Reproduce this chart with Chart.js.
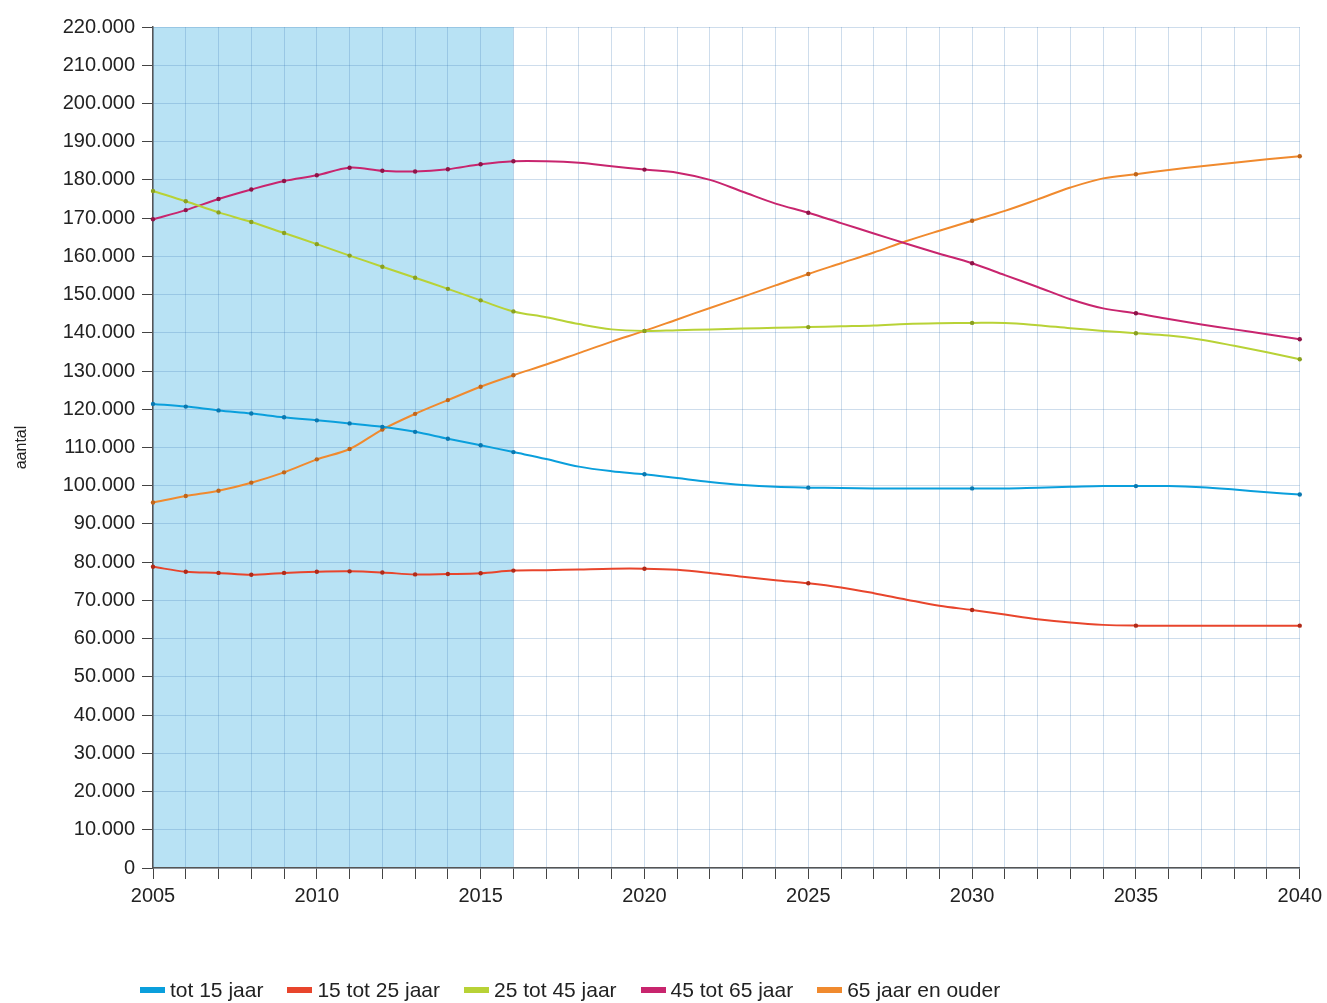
<!DOCTYPE html>
<html>
<head>
<meta charset="utf-8">
<script src="https://cdn.jsdelivr.net/npm/chart.js@4.4.1/dist/chart.umd.min.js"></script>
<style>
  html, body { margin: 0; padding: 0; background: #fff; }
  #wrap { position: relative; width: 1327px; height: 1003px; }
  #legend {
    position: absolute; left: 140px; top: 978px;
    display: flex; align-items: center;
    font-family: "Liberation Sans", Arial, sans-serif; font-size: 21px; color: #222;
  }
  #legend .item { display: flex; align-items: center; margin-right: 24px; }
  #legend .box { width: 25px; height: 6px; margin-right: 5px; }
</style>
</head>
<body>
<div id="wrap">
  <canvas id="chart" width="1327" height="1003"></canvas>
  <div id="legend"></div>
</div>
<script>
// jaren en waarden (aantal personen)
const years = [2005, 2006, 2007, 2008, 2009, 2010, 2011, 2012, 2013, 2014, 2015, 2016,
  2017, 2018, 2019, 2020, 2021, 2022, 2023, 2024, 2025, 2026, 2027, 2028, 2029, 2030,
  2031, 2032, 2033, 2034, 2035, 2036, 2037, 2038, 2039, 2040];

const tot15 = [121400, 120700, 119700, 118900, 117900, 117100, 116300, 115400, 114100, 112300, 110600, 108800,
  107000, 105000, 103800, 103000, 102000, 101000, 100200, 99700, 99500, 99400, 99300, 99300, 99300, 99300,
  99300, 99500, 99700, 99900, 99900, 99900, 99600, 99000, 98300, 97700];

const tot25 = [78800, 77500, 77200, 76700, 77200, 77500, 77600, 77300, 76800, 76900, 77100, 77800,
  77900, 78100, 78300, 78300, 78000, 77200, 76200, 75300, 74500, 73400, 71900, 70200, 68600, 67500,
  66300, 65100, 64200, 63600, 63400, 63400, 63400, 63400, 63400, 63400];

const tot45 = [177100, 174400, 171500, 169000, 166100, 163200, 160200, 157300, 154400, 151500, 148500, 145600,
  144100, 142300, 140900, 140500, 140700, 140900, 141100, 141300, 141500, 141700, 141900, 142300, 142500, 142600,
  142600, 142000, 141200, 140500, 139900, 139300, 138200, 136600, 134900, 133100];

const tot65 = [169700, 172100, 175000, 177500, 179700, 181200, 183200, 182400, 182200, 182800, 184100, 184900,
  184900, 184500, 183600, 182700, 181900, 180000, 176900, 173800, 171400, 168700, 166000, 163300, 160700, 158200,
  155100, 152000, 148800, 146400, 145100, 143600, 142200, 140900, 139600, 138300];

const ouder65 = [95600, 97300, 98700, 100800, 103500, 106900, 109600, 114700, 118800, 122400, 125900, 128900,
  131700, 134700, 137700, 140500, 143500, 146500, 149400, 152400, 155400, 158200, 161000, 164000, 166700, 169300,
  171900, 174900, 178000, 180400, 181500, 182600, 183600, 184500, 185400, 186200];

const seriesNames = ['tot 15 jaar', '15 tot 25 jaar', '25 tot 45 jaar', '45 tot 65 jaar', '65 jaar en ouder'];
const seriesColors = ['#0a9fdc', '#e8452c', '#b8d236', '#c8256e', '#f08a2e'];
const pointColors = ['#0a78b0', '#b02a18', '#8aa020', '#8e1448', '#c0651a'];
const lastObserved = 2016;

const font = "'Liberation Sans', Arial, sans-serif";

function nlFormat(v) {
  return String(v).replace(/\B(?=(\d{3})+(?!\d))/g, '.');
}

// blauwe achtergrond voor de waargenomen jaren
const shadePlugin = {
  id: 'shade',
  beforeDraw(chart) {
    const {ctx, chartArea, scales} = chart;
    const x0 = scales.x.getPixelForValue(0);
    const x1 = scales.x.getPixelForValue(years.indexOf(lastObserved));
    ctx.save();
    ctx.fillStyle = '#b8e2f4';
    ctx.fillRect(x0, chartArea.top, x1 - x0, chartArea.bottom - chartArea.top);
    ctx.restore();
  }
};

const allData = [tot15, tot25, tot45, tot65, ouder65];

const ctx = document.getElementById('chart').getContext('2d');
const chart = new Chart(ctx, {
  type: 'line',
  data: {
    labels: years,
    datasets: allData.map((d, i) => ({
      label: seriesNames[i],
      data: d,
      borderColor: seriesColors[i],
      borderWidth: 2,
      tension: 0.35,
      fill: false,
      pointBackgroundColor: pointColors[i],
      pointBorderWidth: 0,
      pointRadius: (c) => {
        const yr = years[c.dataIndex];
        return (yr <= lastObserved || yr % 5 === 0) ? 2.2 : 0;
      }
    }))
  },
  options: {
    responsive: false,
    animation: false,
    layout: { padding: { left: 0, right: 24, top: 27, bottom: 95 } },
    scales: {
      x: {
        offset: false,
        afterFit: (s) => { s.height = 40; },
        grid: {
          color: 'rgba(60,120,180,0.25)',
          lineWidth: 1,
          tickColor: '#444',
          tickLength: 11,
          drawTicks: true
        },
        border: { color: '#555', width: 1.5 },
        ticks: {
          autoSkip: false,
          maxRotation: 0,
          padding: 5,
          color: '#222',
          font: { family: font, size: 20 },
          callback: (v, i) => (years[i] % 5 === 0 ? String(years[i]) : '')
        }
      },
      y: {
        min: 0,
        max: 220000,
        afterFit: (s) => { s.width = 153; },
        grid: {
          color: 'rgba(60,120,180,0.25)',
          lineWidth: 1,
          tickColor: '#444',
          tickLength: 11
        },
        border: { color: '#555', width: 1.5 },
        ticks: {
          stepSize: 10000,
          padding: 7,
          color: '#222',
          font: { family: font, size: 20 },
          callback: (v) => nlFormat(v)
        },
        title: {
          display: true,
          text: 'aantal',
          color: '#222',
          font: { family: font, size: 16 },
          padding: { top: 12, bottom: 0 }
        }
      }
    },
    plugins: {
      legend: { display: false },
      tooltip: { enabled: false }
    }
  },
  plugins: [shadePlugin]
});

// legenda onder de grafiek
const legend = document.getElementById('legend');
seriesNames.forEach((name, i) => {
  const item = document.createElement('div');
  item.className = 'item';
  const box = document.createElement('span');
  box.className = 'box';
  box.style.background = seriesColors[i];
  const txt = document.createElement('span');
  txt.textContent = name;
  item.appendChild(box);
  item.appendChild(txt);
  legend.appendChild(item);
});
</script>
</body>
</html>
